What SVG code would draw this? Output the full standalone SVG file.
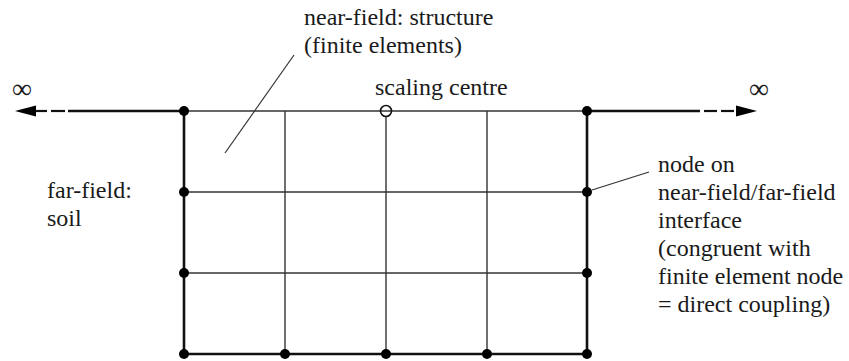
<svg xmlns="http://www.w3.org/2000/svg" width="849" height="361" viewBox="0 0 849 361">
<rect width="849" height="361" fill="#fff"/>
<g id="connectors">
<g stroke="#333" stroke-width="1.4" fill="none">
<line x1="184" y1="111" x2="587" y2="111"/>
<line x1="184" y1="192" x2="587" y2="192"/>
<line x1="184" y1="273" x2="587" y2="273"/>
<line x1="285" y1="111" x2="285" y2="354"/>
<line x1="386" y1="116" x2="386" y2="354"/>
<line x1="487" y1="111" x2="487" y2="354"/>
</g>
<g stroke="#111" stroke-width="2.6" fill="none">
<path d="M184 111 V354 H587 V111"/>
<line x1="68" y1="111" x2="184" y2="111"/>
<line x1="587" y1="111" x2="700" y2="111"/>
</g>
<g stroke="#111" stroke-width="2.2" fill="none">
<line x1="34" y1="111" x2="47" y2="111"/>
<line x1="51" y1="111" x2="65" y2="111"/>
<line x1="704" y1="111" x2="717" y2="111"/>
<line x1="721" y1="111" x2="734" y2="111"/>
</g>
<g fill="#000">
<polygon points="15,111 36,105.5 36,116.5"/>
<polygon points="757,111 736,105.5 736,116.5"/>
</g>
<g stroke="#333" stroke-width="1.2" fill="none">
<line x1="294" y1="55" x2="225" y2="153"/>
<line x1="592" y1="190" x2="649" y2="172"/>
</g>
</g>
<g id="nodes" fill="#000">
<circle cx="184" cy="111" r="5"/>
<circle cx="587" cy="111" r="5"/>
<circle cx="184" cy="192" r="5"/>
<circle cx="587" cy="192" r="5"/>
<circle cx="184" cy="273" r="5"/>
<circle cx="587" cy="273" r="5"/>
<circle cx="184" cy="354" r="5"/>
<circle cx="285" cy="354" r="5"/>
<circle cx="386" cy="354" r="5"/>
<circle cx="487" cy="354" r="5"/>
<circle cx="587" cy="354" r="5"/>
<circle id="scaling-centre" cx="386" cy="111" r="5.5" fill="none" stroke="#111" stroke-width="1.6"/>
</g>
<g id="labels" font-family="Liberation Serif" font-size="24" fill="#1a1a1a">
<text x="12" y="98" font-size="28">&#8734;</text>
<text x="749" y="98" font-size="28">&#8734;</text>
<text x="304" y="25">near-field: structure</text>
<text x="304" y="53">(finite elements)</text>
<text x="375" y="95">scaling centre</text>
<text x="47" y="198">far-field:</text>
<text x="47" y="226">soil</text>
<text x="658" y="172">node on</text>
<text x="658" y="200">near-field/far-field</text>
<text x="658" y="228">interface</text>
<text x="658" y="256">(congruent with</text>
<text x="658" y="284">finite element node</text>
<text x="658" y="312">= direct coupling)</text>
</g>
</svg>
